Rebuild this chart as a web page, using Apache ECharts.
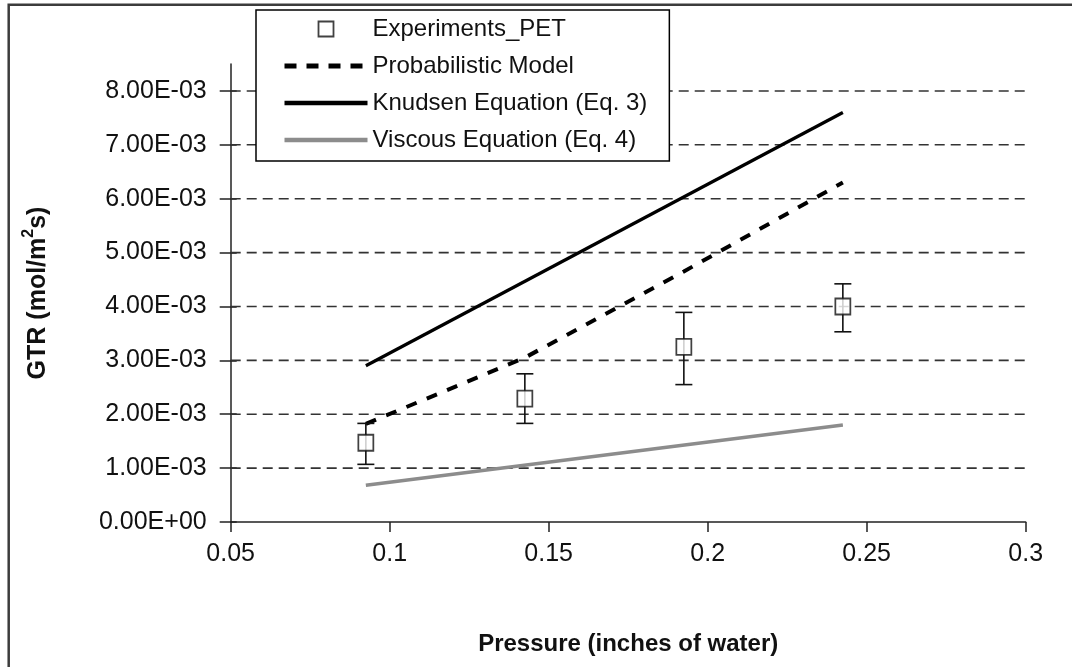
<!DOCTYPE html>
<html>
<head>
<meta charset="utf-8">
<title>GTR vs Pressure</title>
<script src="https://cdn.jsdelivr.net/npm/echarts@6/dist/echarts.min.js"></script>
<style>
  html, body { margin: 0; padding: 0; background: #ffffff; }
  #chart { width: 1072px; height: 667px; }
</style>
</head>
<body>
<div id="chart"></div>
<script>
// Measured gas transmission rate (GTR) for PET with error bars
const pressure = [0.0925, 0.1425, 0.1925, 0.2425];
const expGTR   = [1.47e-3, 2.29e-3, 3.25e-3, 4.00e-3];
const expLow   = [1.07e-3, 1.83e-3, 2.55e-3, 3.53e-3];
const expHigh  = [1.83e-3, 2.75e-3, 3.89e-3, 4.42e-3];

// Model curves
const probX      = [0.0925, 0.1425, 0.1925, 0.2425];
const probGTR    = [1.82e-3, 3.05e-3, 4.65e-3, 6.30e-3];
const knudsenX   = [0.0925, 0.2425];
const knudsenGTR = [2.90e-3, 7.60e-3];
const viscousX   = [0.0925, 0.2425];
const viscousGTR = [0.68e-3, 1.80e-3];

// Axis ticks
const xTicks = [0.05, 0.1, 0.15, 0.2, 0.25, 0.3];
const yTicks = [0, 0.001, 0.002, 0.003, 0.004, 0.005, 0.006, 0.007, 0.008];
const gridValues = yTicks.slice(1);

const seriesNames = [
  'Experiments_PET',
  'Probabilistic Model',
  'Knudsen Equation (Eq. 3)',
  'Viscous Equation (Eq. 4)'
];

const FONT = 'Liberation Sans, Arial, sans-serif';
const INK = '#111111';

function sci(v) {
  if (v === 0) return '0.00E+00';
  const e = Math.floor(Math.log10(Math.abs(v)) + 1e-9);
  const m = v / Math.pow(10, e);
  return m.toFixed(2) + 'E' + (e < 0 ? '-' : '+') + String(Math.abs(e)).padStart(2, '0');
}

const pairs = (xs, ys) => xs.map((x, i) => [x, ys[i]]);

const chart = echarts.init(document.getElementById('chart'), null, { renderer: 'canvas' });

const option = {
  animation: false,
  backgroundColor: '#ffffff',
  graphic: [{
    type: 'rect',
    silent: true,
    z: 0,
    shape: { x: 8.7, y: 4.7, width: 1200, height: 800 },
    style: { fill: 'none', stroke: '#3c3c3c', lineWidth: 2.5 }
  }],
  grid: {
    left: 230.7, right: 46.3, top: 64, bottom: 145,
    outerBoundsMode: 'none'
  },
  legend: {
    data: [
      { name: seriesNames[0], icon: 'path://M0,0H10V10H0Z', itemStyle: { borderWidth: 1.8 } },
      { name: seriesNames[1], itemStyle: { opacity: 0 }, lineStyle: { width: 5, type: [12, 10] } },
      { name: seriesNames[2], itemStyle: { opacity: 0 }, lineStyle: { width: 4.5 } },
      { name: seriesNames[3], itemStyle: { opacity: 0 }, lineStyle: { width: 4.5 } }
    ],
    orient: 'vertical',
    left: 256, top: 10,
    padding: [7, 22, 9, 26],
    itemWidth: 83, itemHeight: 15,
    itemGap: 13,
    symbolKeepAspect: true,
    backgroundColor: '#ffffff',
    borderColor: '#000000',
    borderWidth: 1.5,
    borderRadius: 0,
    z: 10,
    selectedMode: false,
    textStyle: { fontFamily: FONT, fontSize: 24, color: INK, lineHeight: 24 }
  },
  xAxis: {
    type: 'value',
    min: 0.05, max: 0.3, interval: 0.05,
    name: 'Pressure (inches of water)',
    nameLocation: 'middle',
    nameGap: 110,
    nameTextStyle: { fontFamily: FONT, fontSize: 24, fontWeight: 'bold', color: INK },
    axisLine: { show: true, onZero: false, lineStyle: { color: '#222222', width: 1.5 } },
    axisTick: { show: true, length: 10, customValues: xTicks, lineStyle: { color: '#222222', width: 1.5 } },
    axisLabel: {
      customValues: xTicks,
      margin: 20,
      fontFamily: FONT, fontSize: 25, color: INK,
      formatter: v => String(+(+v).toFixed(2))
    },
    splitLine: { show: false }
  },
  yAxis: [{
    type: 'value',
    min: 0, max: 0.0085, interval: 0.001,
    name: '{t|GTR (mol/m}{s|2}{t|s)}',
    nameLocation: 'middle',
    nameGap: 180,
    nameRotate: 90,
    nameTextStyle: {
      fontFamily: FONT, fontSize: 25, fontWeight: 'bold', color: INK,
      rich: {
        t: { fontFamily: FONT, fontSize: 25, fontWeight: 'bold', color: INK, lineHeight: 30, verticalAlign: 'bottom' },
        s: { fontFamily: FONT, fontSize: 16, fontWeight: 'bold', color: INK, lineHeight: 30, verticalAlign: 'top' }
      }
    },
    axisLine: { show: true, onZero: false, lineStyle: { color: '#222222', width: 1.5 } },
    axisTick: { show: true, length: 11, customValues: yTicks, lineStyle: { color: '#222222', width: 1.5 } },
    axisLabel: {
      customValues: yTicks,
      margin: 24,
      fontFamily: FONT, fontSize: 25, color: INK,
      formatter: v => sci(+v)
    },
    splitLine: { show: false }
  }, {
    // inner half of the crossing tick marks
    type: 'value',
    position: 'left',
    min: 0, max: 0.0085, interval: 0.001,
    axisLine: { show: false },
    axisTick: { show: true, inside: true, length: 6, customValues: yTicks, lineStyle: { color: '#222222', width: 1.5 } },
    axisLabel: { show: false },
    splitLine: { show: false }
  }],
  series: [
    {
      // dashed horizontal gridlines at each major y tick
      name: 'gridlines',
      type: 'custom',
      data: gridValues.map(v => [xTicks[0], v]),
      encode: { x: 0, y: 1 },
      z: 1,
      silent: true,
      renderItem: function (params, api) {
        const cs = params.coordSys;
        const y = api.coord([api.value(0), api.value(1)])[1];
        return {
          type: 'line',
          shape: { x1: cs.x, y1: y, x2: cs.x + cs.width, y2: y },
          style: { stroke: '#333333', lineWidth: 1.6, lineDash: [10, 6] }
        };
      }
    },
    {
      name: seriesNames[3],
      type: 'line',
      data: pairs(viscousX, viscousGTR),
      symbol: 'none',
      lineStyle: { color: '#8c8c8c', width: 3.5 },
      itemStyle: { color: '#8c8c8c' },
      z: 3
    },
    {
      name: seriesNames[2],
      type: 'line',
      data: pairs(knudsenX, knudsenGTR),
      symbol: 'none',
      lineStyle: { color: '#000000', width: 3.2 },
      itemStyle: { color: '#000000' },
      z: 3
    },
    {
      name: seriesNames[1],
      type: 'line',
      data: pairs(probX, probGTR),
      symbol: 'none',
      lineStyle: { color: '#000000', width: 4, type: [11, 11] },
      itemStyle: { color: '#000000' },
      z: 3
    },
    {
      name: 'error',
      type: 'custom',
      data: pressure.map((p, i) => [p, expLow[i], expHigh[i]]),
      encode: { x: 0, y: [1, 2] },
      z: 4,
      silent: true,
      renderItem: function (params, api) {
        const x = api.value(0);
        const lo = api.coord([x, api.value(1)]);
        const hi = api.coord([x, api.value(2)]);
        const hw = 8.5;
        const st = { stroke: '#111111', lineWidth: 1.6 };
        return {
          type: 'group',
          children: [
            { type: 'line', shape: { x1: lo[0], y1: lo[1], x2: hi[0], y2: hi[1] }, style: st },
            { type: 'line', shape: { x1: lo[0] - hw, y1: lo[1], x2: lo[0] + hw, y2: lo[1] }, style: st },
            { type: 'line', shape: { x1: hi[0] - hw, y1: hi[1], x2: hi[0] + hw, y2: hi[1] }, style: st }
          ]
        };
      }
    },
    {
      name: seriesNames[0],
      type: 'scatter',
      data: pairs(pressure, expGTR),
      symbol: 'rect',
      symbolSize: [15, 16],
      itemStyle: { color: '#ffffff', borderColor: '#111111', borderWidth: 1.8 },
      z: 5
    }
  ]
};

chart.setOption(option);
</script>
</body>
</html>
